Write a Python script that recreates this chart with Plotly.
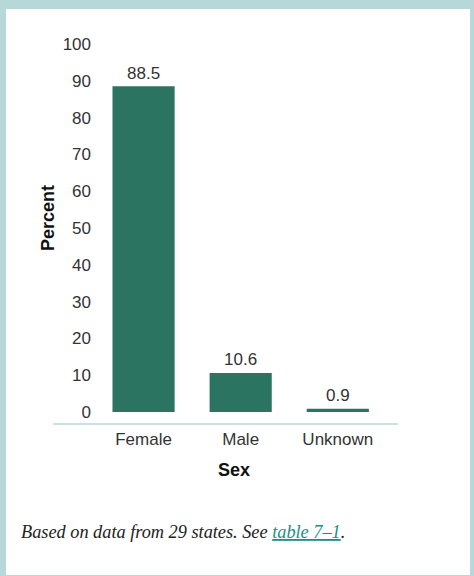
import plotly.graph_objects as go

categories = ["Female", "Male", "Unknown"]
values = [88.5, 10.6, 0.9]
value_labels = ["88.5", "10.6", "0.9"]
y_ticks = [0, 10, 20, 30, 40, 50, 60, 70, 80, 90, 100]

W, H = 474, 576
L, R, T, B = 95, 76, 44, 152
PW, PH = W - L - R, H - T - B

def px_x(p):
    return (p - L) / PW

def px_y(p):
    return (H - B - p) / PH

BAR = "#2b7461"
BORDER = "#b7d8d9"
TXT = "#333333"
FONT = "Liberation Sans, Arial, sans-serif"

fig = go.Figure()
fig.add_trace(go.Bar(
    x=categories, y=values,
    marker=dict(color=BAR, line=dict(width=0)),
    hoverinfo="skip",
))

for c, v, t in zip(categories, values, value_labels):
    fig.add_annotation(x=c, y=v, text=t, showarrow=False, xref="x", yref="y",
                       yanchor="middle", yshift=13,
                       font=dict(family=FONT, size=17, color=TXT))

shapes = [
    dict(type="rect", xref="paper", yref="paper", x0=px_x(6), x1=px_x(470),
         y0=px_y(575), y1=px_y(9), fillcolor="white", line=dict(width=0), layer="below"),
    dict(type="line", xref="paper", yref="paper", x0=px_x(53), x1=px_x(398),
         y0=px_y(424), y1=px_y(424), line=dict(color="#bcd9d6", width=1.5)),
]

fig.add_annotation(xref="paper", yref="paper", x=px_x(234), y=px_y(470), text="<b>Sex</b>",
                   showarrow=False, xanchor="center", yanchor="middle",
                   font=dict(family=FONT, size=18, color="#111111"))
fig.add_annotation(xref="paper", yref="paper", x=px_x(48), y=px_y(218), text="<b>Percent</b>",
                   showarrow=False, xanchor="center", yanchor="middle", textangle=-90,
                   font=dict(family=FONT, size=18, color="#111111"))
fig.add_annotation(xref="paper", yref="paper", x=px_x(19), y=px_y(532),
                   text="<i>Based on data from 29 states. See <span style='color:#1a8f86'><u>table 7–1</u></span>.</i>",
                   showarrow=False, xanchor="left", yanchor="middle",
                   font=dict(family="Liberation Serif, Times New Roman, serif", size=18.3, color="#222222"))

fig.update_layout(
    width=W, height=H,
    margin=dict(l=L, r=R, t=T, b=B, pad=0),
    paper_bgcolor=BORDER,
    plot_bgcolor="rgba(0,0,0,0)",
    showlegend=False,
    bargap=0.36,
    shapes=shapes,
    xaxis=dict(type="category", range=[-0.5, 2.62], showgrid=False, zeroline=False,
               showline=False, ticks="", tickfont=dict(family=FONT, size=17, color=TXT),
               ticklabelstandoff=3, fixedrange=True),
    yaxis=dict(range=[-3.26, 100], tickvals=y_ticks, showgrid=False, zeroline=False,
               showline=False, ticks="", tickfont=dict(family=FONT, size=17, color=TXT),
               ticklabelstandoff=3, fixedrange=True),
)

fig.write_html("out.html", config={"displayModeBar": False},
               post_script="document.body.style.margin='0';document.body.style.overflow='hidden';")
